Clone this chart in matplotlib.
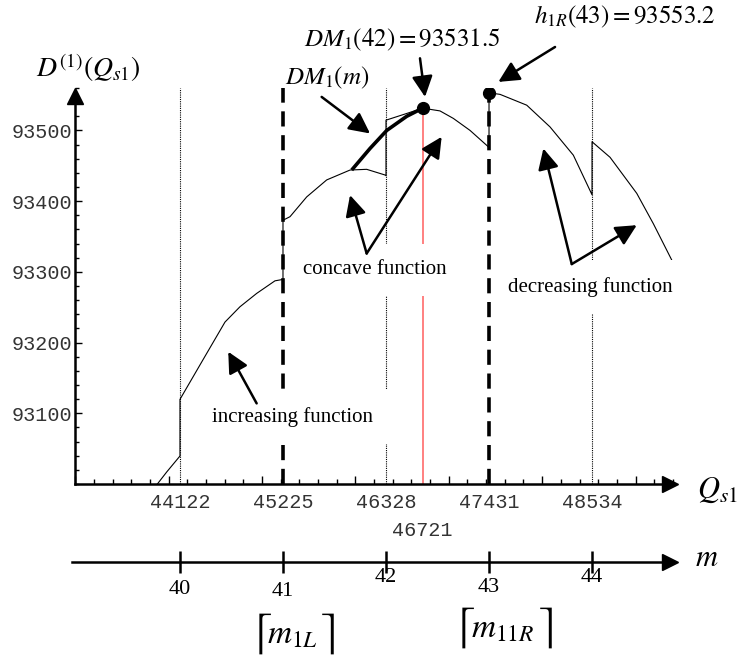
import matplotlib.pyplot as plt
from matplotlib.ticker import FixedLocator, MultipleLocator

plt.rcParams['mathtext.fontset'] = 'stix'
plt.rcParams['font.family'] = ['Liberation Serif', 'DejaVu Sans']

# D^(1)(Q_s1), one polyline with the jumps at the m boundaries
q_curve = [43880, 43980, 44122,
           44122, 44372, 44604, 44764, 44943, 45139, 45211, 45225,
           45225, 45300, 45479, 45693, 45943, 46121, 46317, 46328,
           46328, 46550, 46721, 46906, 47049, 47228, 47431,
           47431, 47549, 47835, 48084, 48334, 48534,
           48534, 48727, 49013, 49191, 49388]
d_curve = [93000, 93017, 93039.6,
           93119.7, 93176.5, 93229, 93250.6, 93269.5, 93287.3, 93289, 93289,
           93373, 93378, 93406, 93430, 93444, 93445, 93437, 93436,
           93514.5, 93524, 93531.5, 93527.6, 93517, 93500, 93476,
           93553.2, 93551, 93535.7, 93505, 93465, 93409,
           93484, 93462, 93411, 93368, 93316.6]

# DM_1(m), the thick part
q_dm = [45961, 46157, 46336, 46550, 46721]
d_dm = [93444, 93474.5, 93500, 93520, 93531.5]

q_bounds = [44122, 45225, 46328, 47431, 48534]
q_labels = ['44122', '45225', '46328', '47431', '48534']
q_star, dm_star = 46721, 93531.5
h_star = 93553.2
m_ticks = [40, 41, 42, 43, 44]
m_labels = ['40', '41', '42', '43', '44']
y_ticks = [93100, 93200, 93300, 93400, 93500]

W, H = 739, 657


def fx(x):
    return x / W


def fy(y):
    return 1 - y / H


fig = plt.figure(figsize=(W / 100, H / 100), dpi=100)

# main axes
ax = fig.add_axes([fx(75), fy(484), fx(680) - fx(75), fy(88) - fy(484)])
ax.set_xlim(42998, 49476)
ax.set_ylim(93000, 93560)
for s in ['top', 'right']:
    ax.spines[s].set_visible(False)
for s in ['left', 'bottom']:
    ax.spines[s].set_linewidth(1.8)
ax.spines['left'].set_bounds(93000, 93540)
ax.spines['bottom'].set_bounds(42998, 49300)
ax.plot([42998], [93548], marker='^', ms=12, color='k', clip_on=False)
ax.plot([49366], [93000], marker='>', ms=12, color='k', clip_on=False)

ax.yaxis.set_major_locator(FixedLocator(y_ticks))
ax.yaxis.set_minor_locator(MultipleLocator(20))
ax.set_yticklabels([str(v) for v in y_ticks], family='Liberation Mono',
                   fontsize=14.5, color='#333333')
ax.tick_params(axis='y', which='major', direction='in', length=5, width=1, pad=2)
ax.tick_params(axis='y', which='minor', direction='in', length=3, width=1)

ax.xaxis.set_major_locator(MultipleLocator(1000))
ax.xaxis.set_minor_locator(MultipleLocator(200))
ax.set_xticklabels([])
ax.tick_params(axis='x', which='major', direction='in', length=6, width=1)
ax.tick_params(axis='x', which='minor', direction='in', length=3.5, width=1)

for q, lab in zip(q_bounds, q_labels):
    ax.annotate(lab, xy=(q, 0), xycoords=('data', 'axes fraction'),
                xytext=(0, -19), textcoords='offset pixels', ha='center', va='center',
                family='Liberation Mono', fontsize=14.5, color='#333333')
ax.annotate(str(q_star), xy=(q_star, 0), xycoords=('data', 'axes fraction'),
            xytext=(0, -46), textcoords='offset pixels', ha='center', va='center',
            family='Liberation Mono', fontsize=14.5, color='#333333')

# boundary lines
for q in [q_bounds[0], q_bounds[2], q_bounds[4]]:
    ax.plot([q, q], [93000, 93560], color='k', lw=0.8, ls=(0, (1, 1)), zorder=1, clip_on=False)
ax.plot([q_bounds[1]] * 2, [93000, 93560], color='k', lw=2.6, ls=(0, (4.2, 2.4)), zorder=1)
ax.plot([q_bounds[3]] * 2, [93000, h_star], color='k', lw=2.6, ls=(0, (4.2, 2.4)), zorder=1)
ax.plot([q_star] * 2, [93000, dm_star], color='#ff6b6b', lw=1.2, zorder=1)

# curve
ax.plot(q_curve, d_curve, color='k', lw=0.8, zorder=2)
ax.plot(q_dm, d_dm, color='k', lw=2.6, zorder=2, solid_capstyle='butt')
ax.plot([q_star], [dm_star], 'o', color='k', ms=8.5, zorder=3)
ax.plot([q_bounds[3]], [h_star], 'o', color='k', ms=8.5, zorder=3)

# labels with arrows
box = dict(boxstyle='square,pad=0.8', fc='white', ec='none')
tk = dict(transform=fig.transFigure, ha='center', va='center', fontsize=15, zorder=4)
ax.text(fx(375), fy(270), 'concave function', bbox=box, **tk)
ax.text(fx(590), fy(287), 'decreasing function', bbox=box, **tk)
ax.text(fx(293), fy(417), 'increasing function', bbox=box, **tk)

arr = dict(arrowstyle='-|>,head_length=0.7,head_width=0.35', lw=1.8, color='k',
           mutation_scale=18, shrinkA=0, shrinkB=0)


def arrow(tail, tip):
    ax.annotate('', xy=tip, xytext=tail, arrowprops=arr, annotation_clip=False, zorder=5)


arrow((45639, 93547.4), (46157, 93495.7))
arrow((46692, 93602), (46746, 93547.4))
arrow((48138, 93618), (47531, 93568.6))
arrow((46121, 93326), (45943, 93408.5))
arrow((46121, 93326), (46924, 93491))
arrow((48317, 93311), (48013, 93474.5))
arrow((48317, 93311), (49013, 93366))
arrow((44943, 93114), (44639, 93187))

fig.text(fx(88), fy(68), r'$D^{(1)}(Q_{s1})$', ha='center', va='center', fontsize=20)
fig.text(fx(327), fy(78), r'$DM_1(m)$', ha='center', va='center', fontsize=18)
fig.text(fx(402), fy(40), r'$DM_1(42) = 93531.5$', ha='center', va='center', fontsize=18)
fig.text(fx(625), fy(17), r'$h_{1R}(43) = 93553.2$', ha='center', va='center', fontsize=18)
fig.text(fx(717), fy(490), r'$Q_{s1}$', ha='center', va='center', fontsize=22)

# m axis
mx = fig.add_axes([fx(72), fy(562), fx(680) - fx(72), 0.001])
mx.set_xlim(38.951, 44.854)
mx.set_ylim(0, 1)
for s in ['top', 'right', 'left']:
    mx.spines[s].set_visible(False)
mx.spines['bottom'].set_linewidth(1.8)
mx.spines['bottom'].set_bounds(38.951, 44.68)
mx.set_yticks([])
mx.set_xticks(m_ticks)
mx.set_xticklabels([])
mx.tick_params(axis='x', direction='inout', length=16, width=1.8)
mx.plot([44.755], [0], marker='>', ms=12, color='k', clip_on=False)
m_offsets = [28, 30, 15, 26, 15]
for m, lab, off in zip(m_ticks, m_labels, m_offsets):
    mx.annotate(lab, xy=(m, 0), xytext=(0, -off), textcoords='offset pixels',
                ha='center', va='center', fontsize=16)
fig.text(fx(707), fy(558), r'$m$', ha='center', va='center', fontsize=22)

# ceiling brackets drawn large, contents at normal size
bk = dict(ha='center', va='center', fontsize=32)
fig.text(fx(292), fy(635), r'$m_{1L}$', ha='center', va='center', fontsize=24)
fig.text(fx(261), fy(634), r'$\lceil$', **bk)
fig.text(fx(327), fy(634), r'$\rceil$', **bk)
fig.text(fx(503), fy(629), r'$m_{11R}$', ha='center', va='center', fontsize=24)
fig.text(fx(464), fy(628), r'$\lceil$', **bk)
fig.text(fx(545), fy(628), r'$\rceil$', **bk)

fig.savefig('out.png', dpi=100)
